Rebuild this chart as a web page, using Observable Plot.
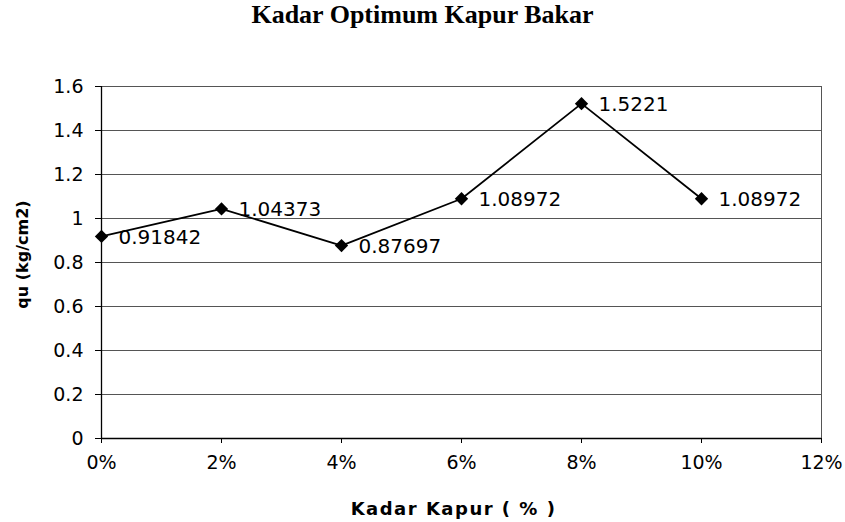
<!DOCTYPE html>
<html>
<head>
<meta charset="utf-8">
<script src="https://cdn.jsdelivr.net/npm/d3@7"></script>
<script src="https://cdn.jsdelivr.net/npm/@observablehq/plot@0.6"></script>
<style>
  html, body { margin: 0; padding: 0; background: white; }
  #title { width: 845px; height: 60px; line-height: 64px; overflow: visible; text-align: center;
           font: bold 26px "Liberation Serif", "Times New Roman", serif; color: black; }
</style>
</head>
<body>
<div id="title">Kadar Optimum Kapur Bakar</div>
<div id="chart"></div>
<script>
const xValues = [0, 2, 4, 6, 8, 10];           // Kadar Kapur (%)
const quValues = [0.91842, 1.04373, 0.87697, 1.08972, 1.5221, 1.08972]; // qu (kg/cm2)
const valueLabels = ["0.91842", "1.04373", "0.87697", "1.08972", "1.5221", "1.08972"];
const xTicks = [0, 2, 4, 6, 8, 10, 12];
const xTickLabels = ["0%", "2%", "4%", "6%", "8%", "10%", "12%"];
const yTicks = [0, 0.2, 0.4, 0.6, 0.8, 1, 1.2, 1.4, 1.6];
const yTickLabels = ["0", "0.2", "0.4", "0.6", "0.8", "1", "1.2", "1.4", "1.6"];
const xLabel = "Kadar Kapur ( % )";
const yLabel = "qu (kg/cm2)";

const data = xValues.map((x, i) => ({x, qu: quValues[i], label: valueLabels[i]}));
const xFmt = d => xTickLabels[xTicks.indexOf(d)];
const yFmt = d => yTickLabels[yTicks.indexOf(d)];

const chart = Plot.plot({
  width: 845,
  height: 462,
  marginTop: 26,
  marginBottom: 84,
  marginLeft: 101,
  marginRight: 24,
  style: {fontFamily: "DejaVu Sans", fontSize: "18px", color: "black", background: "white"},
  x: {domain: [0, 12]},
  y: {domain: [0, 1.6]},
  marks: [
    Plot.ruleY(yTicks.filter(d => d > 0), {stroke: "#555", strokeWidth: 1}),
    Plot.ruleX([xTicks[xTicks.length - 1]], {stroke: "#555", strokeWidth: 1}),
    Plot.axisY({ticks: yTicks, tickFormat: yFmt, tickSize: 6, tickPadding: 12, label: null, fontSize: 19}),
    Plot.axisX({ticks: xTicks, tickFormat: xFmt, tickSize: 5, tickPadding: 12, label: null, fontSize: 19}),
    Plot.ruleX([0], {stroke: "black", strokeWidth: 1.3}),
    Plot.ruleY([0], {stroke: "black", strokeWidth: 1.3}),
    Plot.line(data, {x: "x", y: "qu", stroke: "black", strokeWidth: 1.8}),
    Plot.dot(data, {x: "x", y: "qu", symbol: "diamond2", r: 6, fill: "black", stroke: "none"}),
    Plot.text(data, {x: "x", y: "qu", text: "label", dx: 17, dy: 1, textAnchor: "start", fontSize: 20}),
    Plot.text([xLabel], {text: d => d, frameAnchor: "bottom", lineAnchor: "middle", textAnchor: "middle", dy: 71, dx: -8, fontWeight: "bold", fontSize: 18}),
    Plot.text([yLabel], {text: d => d, frameAnchor: "left", lineAnchor: "middle", textAnchor: "middle", dx: -79, dy: -8, rotate: -90, fontWeight: "bold", fontSize: 16})
  ]
});
d3.select(chart).selectAll("text")
  .filter(function() { return this.textContent === xLabel; })
  .attr("letter-spacing", "1.5px");
document.getElementById("chart").appendChild(chart);
</script>
</body>
</html>
